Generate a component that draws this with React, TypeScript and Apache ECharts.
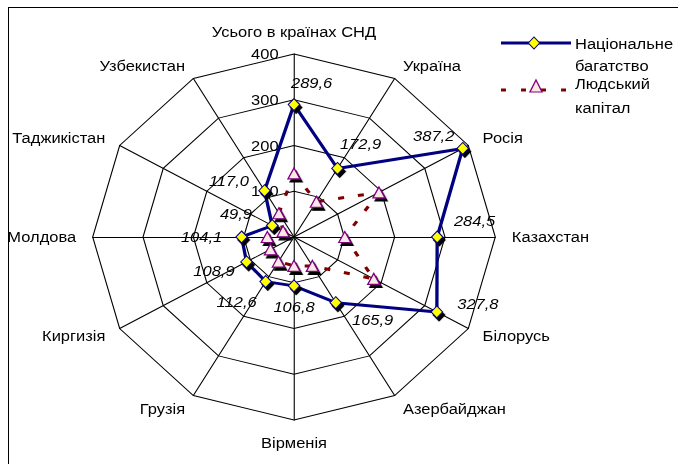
import React, { useEffect, useRef } from 'react';
import * as echarts from 'echarts';

const categories = [
  'Усього в країнах СНД',
  'Україна',
  'Росія',
  'Казахстан',
  'Білорусь',
  'Азербайджан',
  'Вірменія',
  'Грузія',
  'Киргизія',
  'Молдова',
  'Таджикістан',
  'Узбекистан',
];
const nationalWealth = [289.6, 172.9, 387.2, 284.5, 327.8, 165.9, 106.8, 112.6, 108.9, 104.1, 49.9, 117.0];
const humanCapital = [139, 89, 195, 101, 183, 73, 63, 62, 54, 53, 25, 60];
const axisMax = 400;
const axisSplits = 4;
const legendLines1 = ['Національне', 'багатство'];
const legendLines2 = ['Людський', 'капітал'];

// style: label offsets (unscaled px) for value labels of national wealth, per category
const labelOffsets: [number, number][] = [
  [16, -21.5], [21, -24.5], [-26.4, -12.4], [34, -16], [37.3, -8], [33.5, 17.3],
  [0, 21], [-26.4, 20], [-29.6, 9], [-36.4, 0], [-33, -11.6], [-32.4, -9.6],
];

const SX = 1.1;
const FS = 15;
const FONT = "'Liberation Sans', Arial, sans-serif";
const fmt = (v: number) => v.toFixed(1).replace('.', ',');

// ECharts radar runs counter-clockwise; reorder so categories go clockwise
const order = categories.map((_, i) => (i === 0 ? 0 : categories.length - i));
const reorder = <T,>(arr: T[]) => order.map((k) => arr[k]);

export default function App() {
  const ref = useRef<HTMLDivElement>(null);
  useEffect(() => {
    if (!ref.current) return;
    const chart = echarts.init(ref.current, undefined, { renderer: 'svg' });
    const cx = 294 / SX;
    const cy = 237;
    const lx = 501 / SX;
    const nwOrdered = reorder(nationalWealth);
    const hcOrdered = reorder(humanCapital);
    const option: any = {
      animation: false,
      backgroundColor: 'transparent',
      radar: {
        center: [cx, cy],
        radius: 183,
        startAngle: 90,
        shape: 'polygon',
        splitNumber: axisSplits,
        nameGap: 15,
        axisName: { color: '#000', fontSize: FS, fontFamily: FONT },
        splitLine: { lineStyle: { color: '#000', width: 1 } },
        splitArea: { show: false },
        axisLine: { lineStyle: { color: '#000', width: 1 } },
        axisTick: { show: false },
        axisLabel: { show: false, color: '#000', fontSize: FS, fontFamily: FONT, margin: 14 },
        indicator: reorder(categories).map((name, i) =>
          i === 0
            ? { name, min: 0, max: axisMax, axisLabel: { show: true, showMinLabel: false } }
            : { name, min: 0, max: axisMax }
        ),
      },
      series: [
        {
          type: 'radar',
          name: 'hc',
          z: 2,
          symbol: 'triangle',
          symbolSize: [11, 11],
          lineStyle: { color: '#800000', width: 3, type: [5.5, 12.7] },
          itemStyle: {
            color: '#FAE8E2',
            borderColor: '#800080',
            borderWidth: 1.2,
            shadowColor: '#000',
            shadowOffsetX: 2,
            shadowOffsetY: 3,
            shadowBlur: 0,
          },
          data: [{ value: hcOrdered, name: 'Людський капітал' }],
        },
        {
          type: 'radar',
          name: 'nw',
          z: 3,
          symbol: 'diamond',
          symbolSize: [10.5, 12],
          lineStyle: { color: '#000080', width: 3 },
          itemStyle: {
            color: '#FFFF00',
            borderColor: '#000080',
            borderWidth: 1,
            shadowColor: '#000',
            shadowOffsetX: 2,
            shadowOffsetY: 3,
            shadowBlur: 0,
          },
          data: [{ value: nwOrdered, name: 'Національне багатство' }],
        },
        {
          type: 'radar',
          name: 'labels',
          z: 4,
          silent: true,
          symbol: 'circle',
          symbolSize: 1,
          lineStyle: { width: 0, opacity: 0 },
          itemStyle: { color: 'rgba(0,0,0,0)', borderWidth: 0 },
          data: nationalWealth.map((_, i) => ({
            value: nwOrdered.slice(),
            name: 'l' + i,
            label: {
              show: true,
              position: 'inside',
              offset: labelOffsets[i],
              color: '#000',
              fontSize: FS,
              fontStyle: 'italic',
              fontFamily: FONT,
              formatter: (p: any) => (p.value === nationalWealth[i] ? fmt(nationalWealth[i]) : ''),
            },
          })),
        },
      ],
      graphic: [
        { type: 'line', shape: { x1: lx, y1: 43, x2: 571 / SX, y2: 43 }, style: { stroke: '#000080', lineWidth: 3 } },
        {
          type: 'polygon',
          shape: { points: [[534 / SX - 5.2, 43], [534 / SX, 37], [534 / SX + 5.2, 43], [534 / SX, 49]] },
          style: { fill: '#FFFF00', stroke: '#000080', lineWidth: 1 },
        },
        { type: 'text', x: 575 / SX, y: 44, style: { text: legendLines1[0], fill: '#000', font: `${FS}px ${FONT}`, verticalAlign: 'middle' } },
        { type: 'text', x: 575 / SX, y: 66, style: { text: legendLines1[1], fill: '#000', font: `${FS}px ${FONT}`, verticalAlign: 'middle' } },
        {
          type: 'line',
          shape: { x1: lx, y1: 90, x2: 568 / SX, y2: 90 },
          style: { stroke: '#800000', lineWidth: 3, lineDash: [4.5, 13.7] },
        },
        {
          type: 'polygon',
          shape: { points: [[536 / SX, 80], [536 / SX + 5.5, 92], [536 / SX - 5.5, 92]] },
          style: { fill: '#FAE8E2', stroke: '#800080', lineWidth: 1.2 },
        },
        { type: 'text', x: 575 / SX, y: 84, style: { text: legendLines2[0], fill: '#000', font: `${FS}px ${FONT}`, verticalAlign: 'middle' } },
        { type: 'text', x: 575 / SX, y: 108, style: { text: legendLines2[1], fill: '#000', font: `${FS}px ${FONT}`, verticalAlign: 'middle' } },
      ],
    };
    chart.setOption(option);
    return () => chart.dispose();
  }, []);

  return (
    <div style={{ position: 'fixed', left: 0, top: 0, width: 678, height: 464, overflow: 'hidden', background: '#fff' }}>
      <div
        style={{
          position: 'absolute',
          left: 8,
          top: 7,
          width: 700,
          height: 500,
          border: '1px solid #000',
          boxSizing: 'border-box',
        }}
      />
      <div
        ref={ref}
        style={{
          position: 'absolute',
          left: 0,
          top: 0,
          width: Math.ceil(678 / SX),
          height: 464,
          transform: `scaleX(${SX})`,
          transformOrigin: '0 0',
        }}
      />
    </div>
  );
}
